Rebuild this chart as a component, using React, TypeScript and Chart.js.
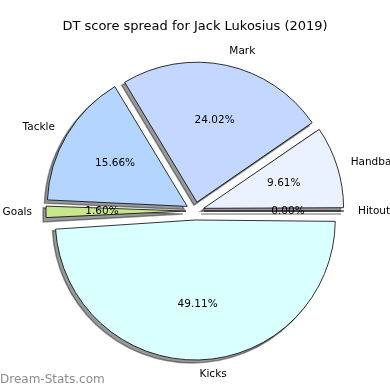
import React, { useEffect, useRef } from "react";
import { Chart, registerables } from "chart.js";

Chart.register(...registerables);

// Data (listed in matplotlib counter-clockwise order starting at 3 o'clock)
const categories = ["Hitout", "Handball", "Mark", "Tackle", "Goals", "Kicks"];
const percentages = [0.0, 9.61, 24.02, 15.66, 1.6, 49.11];
const sliceColors = ["#ffffff", "#eaf1ff", "#c4d8ff", "#b3d5ff", "#c8e68c", "#d9ffff"];
const titleText = "DT score spread for Jack Lukosius (2019)";
const watermark = "Dream-Stats.com";

const FONT = "'DejaVu Sans', sans-serif";
const RADIUS = 140;
const EXPLODE = 9;

export default function App() {
  const ref = useRef<HTMLCanvasElement | null>(null);

  useEffect(() => {
    document.body.style.margin = "0";
    // Chart.js draws clockwise; reverse to mimic the counter-clockwise order
    const labels = [...categories].reverse();
    const values = [...percentages].reverse();
    const colors = [...sliceColors].reverse();

    // Chart.js translates an arc by offset/4 and grows its radius by offset/4 * fix;
    // compensate the radius growth so every slice keeps the same radius.
    const radiusFix = {
      id: "radiusFix",
      afterDatasetUpdate(chart: any) {
        const meta = chart.getDatasetMeta(0);
        meta.data.forEach((arc: any) => {
          const circ = arc.endAngle - arc.startAngle;
          const fix = 1 - Math.sin(Math.min(Math.PI, circ));
          arc.outerRadius = RADIUS - EXPLODE * fix;
        });
      },
    };

    const shadowPlugin = {
      id: "shadowPlugin",
      beforeDatasetsDraw(chart: any) {
        const ctx = chart.ctx;
        const meta = chart.getDatasetMeta(0);
        ctx.save();
        ctx.fillStyle = "rgba(0,0,0,0.4)";
        ctx.strokeStyle = "rgba(0,0,0,0.4)";
        meta.data.forEach((arc: any) => {
          const mid = (arc.startAngle + arc.endAngle) / 2;
          const cx = arc.x + Math.cos(mid) * EXPLODE - 3;
          const cy = arc.y + Math.sin(mid) * EXPLODE + 3;
          ctx.beginPath();
          ctx.moveTo(cx, cy);
          ctx.arc(cx, cy, RADIUS, arc.startAngle, arc.endAngle);
          ctx.closePath();
          ctx.lineWidth = 1.5;
          if (arc.endAngle - arc.startAngle > 0) ctx.fill();
          ctx.stroke();
        });
        ctx.restore();
      },
    };

    const labelPlugin = {
      id: "labelPlugin",
      afterDatasetsDraw(chart: any) {
        const ctx = chart.ctx;
        const meta = chart.getDatasetMeta(0);
        ctx.save();
        ctx.fillStyle = "#000";
        ctx.font = `10.5px ${FONT}`;
        ctx.textBaseline = "middle";
        meta.data.forEach((arc: any, i: number) => {
          const mid = (arc.startAngle + arc.endAngle) / 2;
          const cx = arc.x + Math.cos(mid) * EXPLODE;
          const cy = arc.y + Math.sin(mid) * EXPLODE;
          if (arc.endAngle - arc.startAngle <= 0) {
            ctx.save();
            ctx.strokeStyle = "#000";
            ctx.lineWidth = 1;
            ctx.beginPath();
            ctx.moveTo(cx, cy);
            ctx.lineTo(cx + Math.cos(mid) * RADIUS, cy + Math.sin(mid) * RADIUS);
            ctx.stroke();
            ctx.restore();
          }
          const lx = cx + Math.cos(mid) * RADIUS * 1.1;
          const ly = cy + Math.sin(mid) * RADIUS * 1.1;
          ctx.textAlign = Math.cos(mid) >= -1e-9 ? "left" : "right";
          ctx.fillText(labels[i], lx, ly);
          const px = cx + Math.cos(mid) * RADIUS * 0.6;
          const py = cy + Math.sin(mid) * RADIUS * 0.6;
          ctx.textAlign = "center";
          ctx.fillText(values[i].toFixed(2) + "%", px, py);
        });
        ctx.font = `12px ${FONT}`;
        ctx.fillStyle = "rgba(128,128,128,0.9)";
        ctx.textAlign = "left";
        ctx.fillText(watermark, 0, 380);
        ctx.restore();
      },
    };

    const chart = new Chart(ref.current as HTMLCanvasElement, {
      type: "pie",
      data: {
        labels,
        datasets: [
          {
            data: values,
            backgroundColor: colors,
            borderColor: "#000",
            borderWidth: 0.8,
            offset: EXPLODE * 4,
            borderJoinStyle: "miter",
          } as any,
        ],
      },
      options: {
        animation: false,
        responsive: false,
        rotation: 90,
        radius: RADIUS,
        layout: { padding: { top: 0, bottom: 2.6, left: 0, right: 0 } },
        plugins: {
          legend: { display: false },
          tooltip: { enabled: false },
          title: {
            display: true,
            text: titleText,
            color: "#000",
            font: { family: FONT, size: 13, weight: "normal" },
            padding: { top: 19, bottom: 0 },
          },
        },
      } as any,
      plugins: [radiusFix, shadowPlugin, labelPlugin],
    });
    return () => chart.destroy();
  }, []);

  return (
    <div style={{ position: "fixed", left: 0, top: 0, width: 390, height: 390, background: "#fff" }}>
      <canvas ref={ref} width={390} height={390} style={{ width: 390, height: 390 }} />
    </div>
  );
}
